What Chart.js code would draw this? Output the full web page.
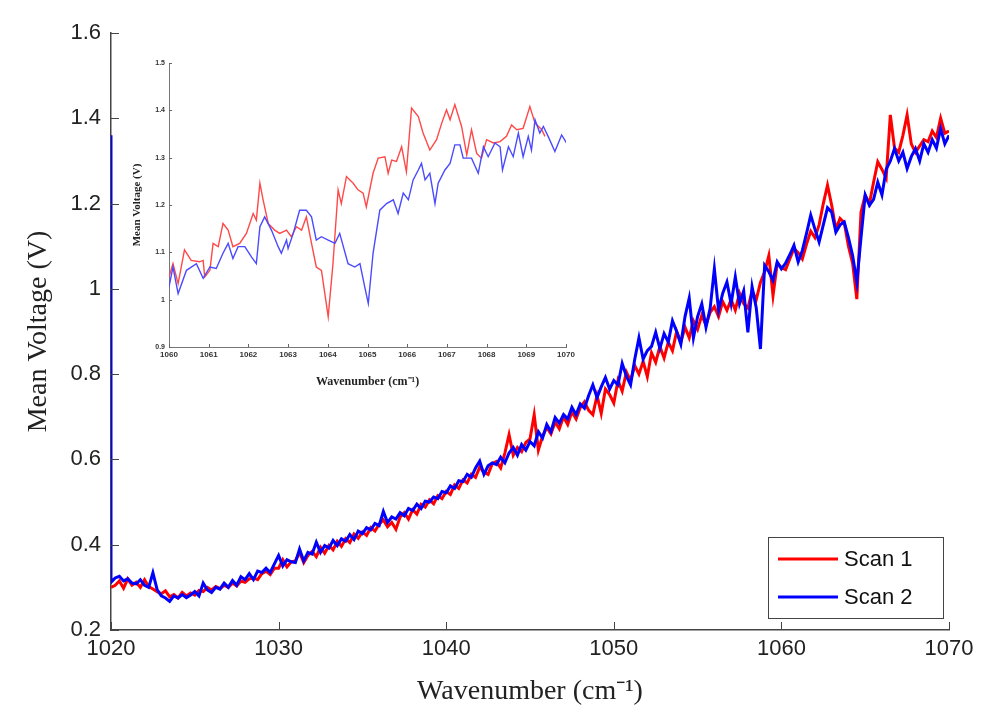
<!DOCTYPE html>
<html>
<head>
<meta charset="utf-8">
<script src="https://cdn.jsdelivr.net/npm/chart.js@4.4.1/dist/chart.umd.min.js"></script>
<style>
  html, body { margin: 0; padding: 0; background: #fff; }
  #wrap { position: relative; width: 993px; height: 714px; }
  #main { position: absolute; left: 0; top: 0; }
  #inset { position: absolute; left: 120px; top: 40px; }
</style>
</head>
<body>
<div id="wrap">
  <canvas id="main" width="993" height="714"></canvas>
  <canvas id="inset" width="460" height="360"></canvas>
</div>
<script>
// ---------------- DATA ----------------
const seriesNames = ['Scan 1', 'Scan 2'];
const mainStart = 1020, mainStepCm = 0.25;   // sampling grid of the main scans
const mainXTicks = [1020, 1030, 1040, 1050, 1060, 1070];
const mainYTicks = [0.2, 0.4, 0.6, 0.8, 1, 1.2, 1.4, 1.6];

const scan1Main = [
  0.300, 0.305, 0.315, 0.298,  0.320, 0.305, 0.312, 0.300,  0.318, 0.302, 0.296, 0.290,
  0.285, 0.292, 0.278, 0.283,  0.275, 0.288, 0.280, 0.287,  0.282, 0.293, 0.290, 0.300,
  0.294, 0.302, 0.297, 0.305,  0.300, 0.310, 0.303, 0.315,  0.312, 0.320, 0.322, 0.318,
  0.332, 0.338, 0.330, 0.345,
  0.345, 0.365, 0.348, 0.360,  0.362, 0.382, 0.358, 0.375,  0.384, 0.372, 0.394, 0.380,
  0.398, 0.388, 0.408, 0.396,  0.414, 0.405, 0.425, 0.415,  0.430, 0.422, 0.440, 0.432,
  0.448, 0.458, 0.442, 0.452,  0.436, 0.465, 0.475, 0.460,  0.482, 0.472, 0.495, 0.488,
  0.505, 0.496, 0.515, 0.508,  0.525, 0.518, 0.540, 0.532,  0.552, 0.545, 0.565, 0.558,
  0.582, 0.570, 0.565, 0.590,  0.595, 0.580, 0.615, 0.658,  0.610, 0.628, 0.618, 0.640,
  0.648, 0.705, 0.622, 0.655,  0.675, 0.660, 0.688, 0.672,  0.700, 0.682, 0.712, 0.695,
  0.722, 0.735, 0.715, 0.705,  0.750, 0.708, 0.765, 0.752,  0.732, 0.785, 0.760, 0.805,
  0.785, 0.820, 0.800, 0.830,  0.794, 0.850, 0.828, 0.865,  0.838, 0.875, 0.855, 0.900,
  0.875, 0.910, 0.885, 0.925,  0.905, 0.938, 0.915, 0.945,  0.958, 0.935, 0.970, 0.950,
  0.975, 0.950, 0.990, 0.965,  0.955, 0.995, 0.975, 1.015,
  1.040, 1.078, 0.984, 1.060,  1.050, 1.045, 1.070, 1.095,  1.085, 1.070, 1.105, 1.135,
  1.120, 1.150, 1.200, 1.243,  1.196, 1.140, 1.165, 1.155,  1.100, 1.060, 0.976, 1.180,
  1.220, 1.200, 1.250, 1.298,  1.280, 1.260, 1.408, 1.330,  1.320, 1.360, 1.408, 1.340,
  1.320, 1.335, 1.350, 1.345,  1.370, 1.355, 1.400, 1.365,  1.370
];
const scan2MainStartValue = 1.36;   // first reading of scan 2 at 1020 cm-1
const scan2Main = [
  0.312, 0.322, 0.326, 0.315,  0.320, 0.310, 0.308, 0.318,  0.305, 0.300, 0.334, 0.295,
  0.280, 0.275, 0.267, 0.280,  0.275, 0.283, 0.276, 0.282,  0.290, 0.280, 0.310, 0.294,
  0.288, 0.300, 0.296, 0.310,  0.300, 0.316, 0.305, 0.325,  0.318, 0.332, 0.318, 0.338,
  0.335, 0.345, 0.335, 0.355,  0.375, 0.350, 0.365, 0.360,  0.358, 0.390, 0.362, 0.382,
  0.378, 0.406, 0.382, 0.398,  0.392, 0.410, 0.398, 0.414,  0.408, 0.424, 0.412, 0.432,
  0.426, 0.440, 0.435, 0.450,  0.445, 0.478, 0.452, 0.465,  0.460, 0.475, 0.468, 0.485,
  0.480, 0.495, 0.485, 0.502,  0.500, 0.512, 0.508, 0.525,  0.522, 0.538, 0.532, 0.550,
  0.548, 0.565, 0.558, 0.580,  0.596, 0.565, 0.585, 0.592,  0.588, 0.605, 0.592, 0.615,
  0.628, 0.610, 0.635, 0.622,  0.642, 0.632, 0.665, 0.650,  0.682, 0.665, 0.698, 0.685,
  0.705, 0.695, 0.722, 0.705,  0.730, 0.720, 0.750, 0.775,  0.745, 0.770, 0.792, 0.765,
  0.785, 0.775, 0.825, 0.795,  0.775, 0.835, 0.885, 0.835,  0.855, 0.865, 0.898, 0.860,
  0.895, 0.875, 0.925, 0.900,  0.870, 0.935, 0.978, 0.885,  0.935, 0.965, 0.910, 0.955,
  1.047, 0.950, 0.990, 1.016,  0.965, 1.028, 0.965, 0.995,  0.898, 1.005, 0.955, 0.859,
  1.055, 1.040, 1.020, 1.063,  1.047, 1.060, 1.080, 1.102,  1.063, 1.090, 1.130, 1.173,
  1.140, 1.110, 1.150, 1.190,  1.180, 1.133, 1.150, 1.157,  1.120, 1.078, 1.016, 1.120,
  1.220, 1.196, 1.210, 1.250,  1.220, 1.280, 1.300, 1.329,  1.300, 1.320, 1.282, 1.310,
  1.329, 1.300, 1.340, 1.320,  1.350, 1.330, 1.376, 1.340,  1.360
];

// Inset (zoom 1060-1070)
const insetXTicks = [1060, 1061, 1062, 1063, 1064, 1065, 1066, 1067, 1068, 1069, 1070];
const insetYTicks = [0.9, 1, 1.1, 1.2, 1.3, 1.4, 1.5];
const scan1InsetX = [
  1060.00, 1060.10, 1060.23, 1060.39, 1060.56, 1060.77, 1060.86, 1060.90, 1061.03, 1061.11,
  1061.24, 1061.36, 1061.49, 1061.61, 1061.78, 1061.95, 1062.12, 1062.20, 1062.29, 1062.37,
  1062.50, 1062.66, 1062.79, 1062.96, 1063.08, 1063.21, 1063.34, 1063.46, 1063.59, 1063.71,
  1063.84, 1064.01, 1064.13, 1064.26, 1064.34, 1064.47, 1064.64, 1064.76, 1064.89, 1064.97,
  1065.14, 1065.27, 1065.44, 1065.52, 1065.61, 1065.73, 1065.86, 1065.98, 1066.11, 1066.28,
  1066.40, 1066.57, 1066.74, 1066.87, 1066.99, 1067.08, 1067.20, 1067.37, 1067.50, 1067.62,
  1067.75, 1067.87, 1068.00, 1068.17, 1068.34, 1068.50, 1068.63, 1068.76, 1068.92, 1069.09,
  1069.22, 1069.39, 1069.47
];
const scan1InsetY = [
  1.048, 1.076, 1.034, 1.105, 1.083, 1.080, 1.083, 1.048, 1.062, 1.119,
  1.112, 1.161, 1.147, 1.112, 1.119, 1.140, 1.182, 1.168, 1.246, 1.211,
  1.161, 1.147, 1.140, 1.147, 1.133, 1.154, 1.147, 1.175, 1.119, 1.069,
  1.062, 0.964, 1.076, 1.232, 1.203, 1.260, 1.246, 1.232, 1.225, 1.196,
  1.267, 1.299, 1.302, 1.267, 1.295, 1.292, 1.323, 1.270, 1.405, 1.387,
  1.352, 1.316, 1.338, 1.373, 1.401, 1.380, 1.412, 1.366, 1.306, 1.359,
  1.309, 1.299, 1.338, 1.331, 1.334, 1.345, 1.369, 1.359, 1.362, 1.408,
  1.373, 1.359, 1.345
];
const scan2InsetX = [
  1060.00, 1060.10, 1060.23, 1060.44, 1060.69, 1060.86, 1061.03, 1061.19, 1061.36, 1061.49,
  1061.61, 1061.74, 1061.91, 1062.08, 1062.20, 1062.29, 1062.41, 1062.58, 1062.75, 1062.83,
  1062.96, 1063.00, 1063.13, 1063.29, 1063.46, 1063.59, 1063.71, 1063.84, 1064.01, 1064.18,
  1064.30, 1064.51, 1064.68, 1064.81, 1064.93, 1065.02, 1065.14, 1065.31, 1065.48, 1065.65,
  1065.77, 1065.90, 1066.03, 1066.15, 1066.28, 1066.36, 1066.45, 1066.57, 1066.70, 1066.78,
  1066.95, 1067.08, 1067.20, 1067.33, 1067.41, 1067.62, 1067.79, 1067.92, 1068.04, 1068.21,
  1068.34, 1068.40, 1068.55, 1068.67, 1068.80, 1068.92, 1069.05, 1069.13, 1069.22, 1069.34,
  1069.43, 1069.55, 1069.72, 1069.89, 1070.02
];
const scan2InsetY = [
  1.027, 1.069, 1.013, 1.062, 1.076, 1.045, 1.069, 1.066, 1.098, 1.119,
  1.087, 1.112, 1.112, 1.090, 1.076, 1.154, 1.175, 1.147, 1.112, 1.098,
  1.126, 1.108, 1.140, 1.189, 1.189, 1.175, 1.126, 1.133, 1.126, 1.119,
  1.140, 1.076, 1.069, 1.076, 1.027, 0.992, 1.098, 1.189, 1.203, 1.211,
  1.182, 1.225, 1.211, 1.253, 1.274, 1.288, 1.253, 1.267, 1.203, 1.246,
  1.274, 1.288, 1.327, 1.327, 1.299, 1.299, 1.267, 1.323, 1.302, 1.331,
  1.323, 1.274, 1.323, 1.302, 1.352, 1.302, 1.345, 1.316, 1.380, 1.352,
  1.366, 1.345, 1.313, 1.348, 1.330
];

// ---------------- BUILD ----------------
const mainXGrid = scan1Main.map((_, i) => mainStart + i * mainStepCm);
const scan1Points = scan1Main.map((v, i) => ({ x: mainXGrid[i], y: v }));
const scan2Points = [{ x: mainStart, y: scan2MainStartValue }]
  .concat(scan2Main.map((v, i) => ({ x: mainXGrid[i], y: v })));
const zip = (xs, ys) => xs.map((x, i) => ({ x, y: ys[i] }));
const fmtNum = v => String(Math.round(v * 10) / 10);

const SANS = '"Liberation Sans", Arial, sans-serif';
const SERIF = '"Liberation Serif", "Times New Roman", serif';

const inwardTicks = {
  id: 'inwardTicks',
  afterDatasetsDraw(chart, args, opts) {
    const { ctx, chartArea, scales: { x, y } } = chart;
    ctx.save();
    ctx.strokeStyle = opts.color || '#333';
    ctx.lineWidth = opts.width || 1;
    x.ticks.forEach(t => {
      const px = Math.round(x.getPixelForValue(t.value)) + 0.5;
      ctx.beginPath(); ctx.moveTo(px, chartArea.bottom); ctx.lineTo(px, chartArea.bottom - opts.len); ctx.stroke();
    });
    y.ticks.forEach(t => {
      const py = Math.round(y.getPixelForValue(t.value)) + 0.5;
      ctx.beginPath(); ctx.moveTo(chartArea.left, py); ctx.lineTo(chartArea.left + opts.len, py); ctx.stroke();
    });
    ctx.restore();
  }
};

const boxLegend = {
  id: 'boxLegend',
  afterDraw(chart, args, opts) {
    if (!opts || !opts.show) return;
    const { ctx } = chart;
    const ds = chart.data.datasets;
    ctx.save();
    ctx.fillStyle = '#fff';
    ctx.fillRect(opts.x, opts.y, opts.w, opts.h);
    ctx.strokeStyle = '#444';
    ctx.lineWidth = 1;
    ctx.strokeRect(opts.x + 0.5, opts.y + 0.5, opts.w, opts.h);
    ctx.font = opts.font;
    ctx.textBaseline = 'middle';
    ctx.textAlign = 'left';
    ds.forEach((d, i) => {
      const yy = opts.y + opts.rowTop + i * opts.rowGap;
      ctx.strokeStyle = d.borderColor;
      ctx.lineWidth = 3;
      ctx.beginPath(); ctx.moveTo(opts.x + 10, yy); ctx.lineTo(opts.x + 70, yy); ctx.stroke();
      ctx.fillStyle = '#111';
      ctx.fillText(d.label, opts.x + 76, yy + 1);
    });
    ctx.restore();
  }
};

Chart.register(inwardTicks, boxLegend);

new Chart(document.getElementById('main'), {
  type: 'line',
  data: {
    datasets: [
      { label: seriesNames[0], data: scan1Points, borderColor: '#ff0000', borderWidth: 3, pointRadius: 0, tension: 0, order: 2 },
      { label: seriesNames[1], data: scan2Points, borderColor: '#0000ff', borderWidth: 3, pointRadius: 0, tension: 0, order: 1 }
    ]
  },
  options: {
    responsive: false,
    animation: false,
    events: [],
    layout: { padding: { left: 20, right: 44, top: 33, bottom: 4 } },
    plugins: {
      legend: { display: false },
      tooltip: { enabled: false },
      inwardTicks: { len: 8, color: '#444' },
      boxLegend: { show: true, x: 768, y: 537, w: 175, h: 81, rowTop: 22, rowGap: 38, font: '22px ' + SANS }
    },
    scales: {
      x: {
        type: 'linear', min: 1020, max: 1070,
        afterBuildTicks: s => { s.ticks = mainXTicks.map(v => ({ value: v })); },
        ticks: { font: { family: SANS, size: 22 }, color: '#222', padding: 6, maxRotation: 0, callback: v => String(v) },
        grid: { display: true, drawOnChartArea: false, drawTicks: false },
        border: { display: true, color: '#444', width: 1.5 },
        title: { display: true, text: 'Wavenumber (cm⁻¹)', font: { family: SERIF, size: 28 }, color: '#222', padding: { top: 2, bottom: 2 } },
        afterFit: s => { s.height = 80; }
      },
      y: {
        type: 'linear', min: 0.2, max: 1.6,
        afterBuildTicks: s => { s.ticks = mainYTicks.map(v => ({ value: v })); },
        ticks: { font: { family: SANS, size: 22 }, color: '#222', padding: 10, callback: fmtNum },
        grid: { display: true, drawOnChartArea: false, drawTicks: false },
        border: { display: true, color: '#444', width: 1.5 },
        title: { display: true, text: 'Mean Voltage (V)', font: { family: SERIF, size: 28 }, color: '#222', padding: { top: 2, bottom: 2 } },
        afterFit: s => { s.width = 91; }
      }
    }
  }
});

new Chart(document.getElementById('inset'), {
  type: 'line',
  data: {
    datasets: [
      { label: seriesNames[0], data: zip(scan1InsetX, scan1InsetY), borderColor: '#ff4848', borderWidth: 1.4, pointRadius: 0, tension: 0, order: 2 },
      { label: seriesNames[1], data: zip(scan2InsetX, scan2InsetY), borderColor: '#4a4aff', borderWidth: 1.4, pointRadius: 0, tension: 0, order: 1 }
    ]
  },
  options: {
    responsive: false,
    animation: false,
    events: [],
    layout: { padding: { left: 9, right: 14, top: 23, bottom: 9 } },
    plugins: {
      legend: { display: false },
      tooltip: { enabled: false },
      inwardTicks: { len: 3, color: '#666' },
      boxLegend: { show: false }
    },
    scales: {
      x: {
        type: 'linear', min: 1060, max: 1070,
        afterBuildTicks: s => { s.ticks = insetXTicks.map(v => ({ value: v })); },
        ticks: { font: { family: SANS, size: 8, weight: 'bold' }, color: '#333', padding: 3, maxRotation: 0, autoSkip: false, callback: v => String(v) },
        grid: { display: true, drawOnChartArea: false, drawTicks: false },
        border: { display: true, color: '#777', width: 1 },
        title: { display: true, text: 'Wavenumber (cm⁻¹)', font: { family: SERIF, size: 12, weight: 'bold' }, color: '#222', padding: { top: 4, bottom: 2 } },
        afterFit: s => { s.height = 44; }
      },
      y: {
        type: 'linear', min: 0.9, max: 1.5,
        afterBuildTicks: s => { s.ticks = insetYTicks.map(v => ({ value: v })); },
        ticks: { font: { family: SANS, size: 7, weight: 'bold' }, color: '#333', padding: 4, callback: fmtNum },
        grid: { display: true, drawOnChartArea: false, drawTicks: false },
        border: { display: true, color: '#777', width: 1 },
        title: { display: true, text: 'Mean Voltage (V)', font: { family: SERIF, size: 11, weight: 'bold' }, color: '#222', padding: { top: 2, bottom: 2 } },
        afterFit: s => { s.width = 40; }
      }
    }
  }
});
</script>
</body>
</html>
